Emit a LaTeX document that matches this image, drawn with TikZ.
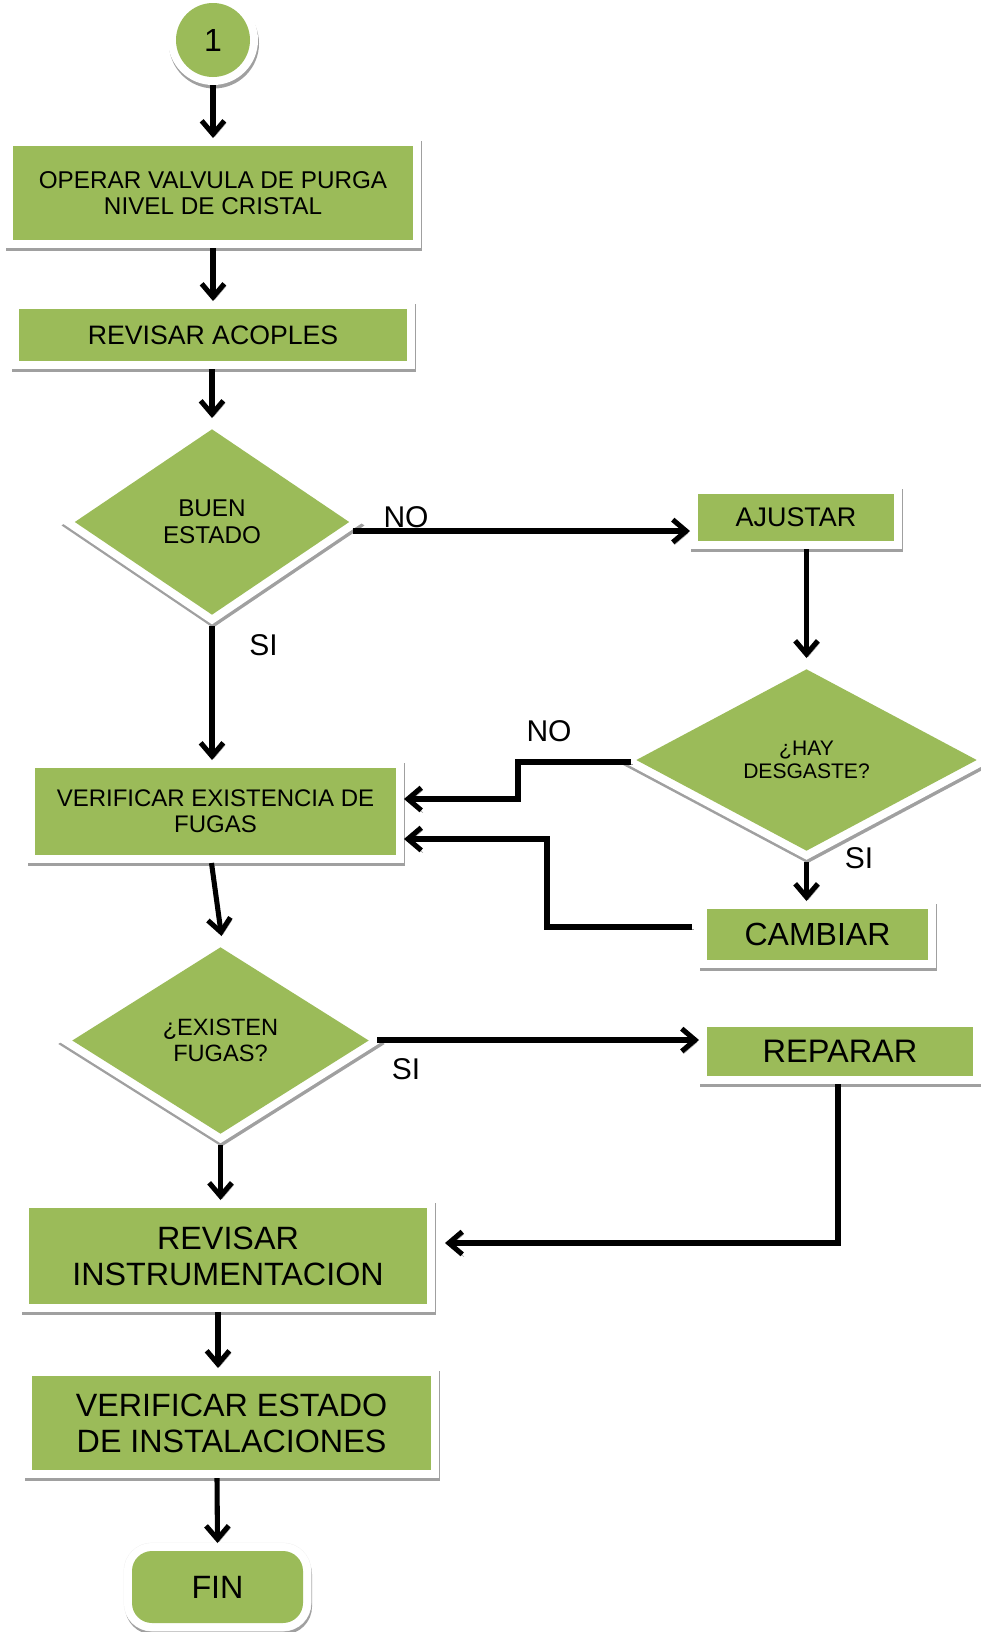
\documentclass[tikz,border=0pt]{standalone}
\usepackage{fontspec}
\setmainfont{Liberation Sans}
\usetikzlibrary{shapes.geometric,arrows.meta,calc}
\definecolor{olive}{HTML}{9BBB59}
\definecolor{shgray}{HTML}{A0A0A0}
\begin{document}
\begin{tikzpicture}[x=0.75pt,y=-0.75pt,
  sz/.style 2 args={minimum width=#1*0.75pt, minimum height=#2*0.75pt},
  fs/.style 2 args={font=\fontsize{#1}{#2}\selectfont},
  framed/.style={fill=olive, draw=none, inner sep=0pt, outer sep=6pt, align=center, text=black,
    preaction={draw=shgray, line width=12pt, transform canvas={shift={(0.75pt,-2.6pt)}}},
    preaction={draw=white, line width=12pt}},
  gbox/.style={framed, rectangle, preaction={draw=gray!12, line width=12.6pt}, preaction={draw=white, line width=12pt}},
  gdia/.style={framed, diamond, aspect=1.46},
  lbl/.style={inner sep=0pt, text=black, font=\fontsize{22.5}{26}\selectfont},
  conn/.style={line width=3.8pt, draw=black,
    preaction={draw=shgray, transform canvas={shift={(1.3pt,-1.8pt)}}}},
  arr/.style={conn, -{Straight Barb[length=10pt,width=17pt]}}
]
\useasboundingbox (0,0) rectangle (981,1632);

% nodes
\node[framed, circle, sz={74}{74}, fs={24}{26}] (c1) at (213,40) {1};
\node[gbox, sz={400}{94}, fs={18.2}{20}] (b1) at (213,193) {OPERAR VALVULA DE PURGA\\NIVEL DE CRISTAL};
\node[gbox, sz={388}{52}, fs={20}{22}] (b2) at (213,335) {REVISAR ACOPLES};
\node[gdia, sz={281}{192}, fs={18.2}{20}] (buen) at (212,522) {BUEN\\ESTADO};
\node[gbox, sz={196}{47}, fs={20.2}{22}] (aj) at (796,517.5) {AJUSTAR};
\node[gdia, sz={347}{188}, fs={15.8}{17.2}] (hay) at (806.5,760) {¿HAY\\DESGASTE?};
\node[gbox, sz={361}{87}, fs={18}{19.5}] (ver) at (215.5,811.5) {VERIFICAR EXISTENCIA DE\\FUGAS};
\node[gbox, sz={221}{51}, fs={24}{26}] (cam) at (817.5,934.5) {CAMBIAR};
\node[gdia, sz={303}{193}, fs={17.7}{19}] (fugas) at (220.5,1040.5) {¿EXISTEN\\FUGAS?};
\node[gbox, sz={266}{49}, fs={24.4}{26}] (rep) at (840,1051.5) {REPARAR};
\node[gbox, sz={398}{96}, fs={24.2}{27}] (rin) at (228,1256) {REVISAR\\INSTRUMENTACION};
\node[gbox, sz={399}{94}, fs={24.2}{27}] (ves) at (231.5,1423) {VERIFICAR ESTADO\\DE INSTALACIONES};
\node[gbox, rounded corners=15pt, sz={171}{72}, fs={24.2}{26}] (fin) at (217.5,1587) {FIN};

% labels
\node[lbl] (lno1) at (406,517) {NO};
\node[lbl] (lsi1) at (263.5,645) {SI};
\node[lbl] (lno2) at (549,731) {NO};
\node[lbl] (lsi2) at (859,858) {SI};
\node[lbl] (lsi3) at (406,1069) {SI};

% connectors
\draw[arr] (c1.south) -- (b1.north);
\draw[arr] (b1.south) -- (b2.north);
\draw[arr] (b2.south -| buen.north) -- (buen.north);
\coordinate (noS) at ($(buen.east)+(-8,9)$);
\draw[arr] (noS) -- (noS -| aj.west);
\draw[arr] (buen.south) -- (buen.south |- ver.north);
\draw[arr] (hay.north |- aj.south) -- (hay.north);
\coordinate (hn) at ($(hay.west)+(6,2)$);
\draw[arr] (hn) -- ++(-113,0) |- ($(ver.east)+(0,-12.5)$);
\draw[arr] (hay.south) -- (hay.south |- cam.north);
\coordinate (cw) at ($(cam.west)+(-7,-7.5)$);
\draw[arr] (cw) -- ++(-145,0) |- ($(ver.east)+(0,27.5)$);
\draw[arr] ($(ver.south)+(-4,0)$) -- ($(fugas.north)+(1,0)$);
\coordinate (fsi) at ($(fugas.east)+(-3,-0.5)$);
\draw[arr] (fsi) -- (fsi -| rep.west);
\draw[arr] ($(rep.south)+(-2,0)$) |- ($(rin.east)+(10,-13)$);
\draw[arr] (fugas.south) -- (fugas.south |- rin.north);
\draw[arr] ($(rin.south)+(-10,0)$) -- ($(ves.north)+(-13.5,0)$);
\draw[arr] ($(ves.south)+(-14.5,0)$) -- (fin.north);
\end{tikzpicture}
\end{document}
